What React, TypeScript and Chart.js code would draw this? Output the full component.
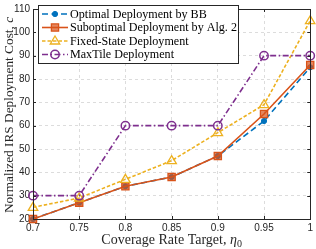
import React, { useEffect, useRef } from "react";
import { Chart, registerables } from "chart.js";
Chart.register(...registerables);

const xValues = [0.7, 0.75, 0.8, 0.85, 0.9, 0.95, 1];
const optimalBB = [20, 27, 34, 38, 47, 62, 85];
const suboptimal = [20, 27, 34, 38, 47, 65, 86];
const fixedState = [25, 29, 37, 45, 57, 69, 105];
const maxTile = [30, 30, 60, 60, 60, 90, 90];
const seriesNames = [
  "Optimal Deployment by BB",
  "Suboptimal Deployment by Alg. 2",
  "Fixed-State Deployment",
  "MaxTile Deployment",
];
const xTickLabels = ["0.7", "0.75", "0.8", "0.85", "0.9", "0.95", "1"];
const yMin = 20;
const yMax = 110;

const BLUE = "#0072BD";
const ORANGE = "#D95319";
const YELLOW = "#EDB120";
const PURPLE = "#7E2F8E";
const SERIF = "'Liberation Serif', 'DejaVu Serif', serif";
const SANS = "'Liberation Sans', Arial, sans-serif";

const styles = [
  { color: BLUE, dash: [6, 3.5], point: "circle", r: 2.6, fill: BLUE, bw: 1 },
  { color: ORANGE, dash: [], point: "rect", r: 3.6, fill: "rgba(217,83,25,0.7)", bw: 1.3 },
  { color: YELLOW, dash: [3.5, 2], point: "triangle", r: 5, fill: "rgba(255,255,255,0)", bw: 1.3 },
  { color: PURPLE, dash: [6, 2.5, 1.5, 2.5], point: "circle", r: 4.2, fill: "rgba(255,255,255,0)", bw: 1.5 },
];

function drawMarker(ctx: CanvasRenderingContext2D, i: number, x: number, y: number) {
  const s = styles[i];
  ctx.save();
  ctx.setLineDash([]);
  ctx.strokeStyle = s.color;
  ctx.fillStyle = s.fill;
  ctx.lineWidth = s.bw;
  ctx.beginPath();
  if (s.point === "circle") {
    ctx.arc(x, y, s.r, 0, Math.PI * 2);
  } else if (s.point === "rect") {
    ctx.rect(x - s.r, y - s.r, s.r * 2, s.r * 2);
  } else {
    const r = s.r;
    ctx.moveTo(x, y - r);
    ctx.lineTo(x + r * 0.95, y + r * 0.6);
    ctx.lineTo(x - r * 0.95, y + r * 0.6);
    ctx.closePath();
  }
  ctx.fill();
  ctx.stroke();
  ctx.restore();
}

const overlay = {
  id: "overlay",
  afterDraw(chart: any) {
    const ctx: CanvasRenderingContext2D = chart.ctx;
    const a = chart.chartArea;
    ctx.save();
    ctx.strokeStyle = "#262626";
    ctx.lineWidth = 1;
    ctx.setLineDash([]);
    ctx.strokeRect(Math.round(a.left) + 0.5, Math.round(a.top) + 0.5, Math.round(a.right - a.left), Math.round(a.bottom - a.top));
    const xs = chart.scales.x;
    const ys = chart.scales.y;
    ctx.beginPath();
    for (const v of xValues) {
      const px = Math.round(xs.getPixelForValue(v)) + 0.5;
      ctx.moveTo(px, a.bottom); ctx.lineTo(px, a.bottom - 3);
      ctx.moveTo(px, a.top); ctx.lineTo(px, a.top + 3);
    }
    for (let v = yMin; v <= yMax; v += 10) {
      const py = Math.round(ys.getPixelForValue(v)) + 0.5;
      ctx.moveTo(a.left, py); ctx.lineTo(a.left + 3, py);
      ctx.moveTo(a.right, py); ctx.lineTo(a.right - 3, py);
    }
    ctx.stroke();

    // y title
    ctx.fillStyle = "#262626";
    const yfs = 13.3;
    ctx.save();
    ctx.translate(10, (a.top + a.bottom) / 2 + 1);
    ctx.rotate(-Math.PI / 2);
    const yt1 = "Normalized IRS Deployment Cost, ";
    ctx.font = `${yfs}px ${SERIF}`;
    const w1 = ctx.measureText(yt1).width;
    ctx.font = `italic ${yfs}px ${SERIF}`;
    const w2 = ctx.measureText("c").width;
    const tw = w1 + w2;
    ctx.textBaseline = "middle";
    ctx.textAlign = "left";
    ctx.font = `${yfs}px ${SERIF}`;
    ctx.fillText(yt1, -tw / 2, 0);
    ctx.font = `italic ${yfs}px ${SERIF}`;
    ctx.fillText("c", -tw / 2 + w1, 0);
    ctx.restore();

    // x title
    const xfs = 14;
    const xt = "Coverage Rate Target, ";
    ctx.font = `${xfs}px ${SERIF}`;
    const xw1 = ctx.measureText(xt).width;
    ctx.font = `italic ${xfs}px ${SERIF}`;
    const xw2 = ctx.measureText("\u03B7").width;
    ctx.font = `10px ${SERIF}`;
    const xw3 = ctx.measureText("0").width;
    const xtw = xw1 + xw2 + xw3;
    const cx = (a.left + a.right) / 2;
    const by = 244;
    ctx.textBaseline = "alphabetic";
    ctx.textAlign = "left";
    ctx.font = `${xfs}px ${SERIF}`;
    ctx.fillText(xt, cx - xtw / 2, by);
    ctx.font = `italic ${xfs}px ${SERIF}`;
    ctx.fillText("\u03B7", cx - xtw / 2 + xw1, by);
    ctx.font = `10px ${SERIF}`;
    ctx.fillText("0", cx - xtw / 2 + xw1 + xw2, by + 3);

    // legend
    const lx = 38.5, ly = 5.5, lw = 200, lh = 58;
    ctx.fillStyle = "#ffffff";
    ctx.fillRect(lx, ly, lw, lh);
    ctx.strokeStyle = "#262626";
    ctx.lineWidth = 1;
    ctx.strokeRect(lx, ly, lw, lh);
    const rows = [14, 27.5, 41, 54.5];
    for (let i = 0; i < 4; i++) {
      const s = styles[i];
      ctx.save();
      ctx.strokeStyle = s.color;
      ctx.lineWidth = 1.6;
      ctx.setLineDash(s.dash);
      ctx.beginPath();
      ctx.moveTo(42, rows[i]);
      ctx.lineTo(68, rows[i]);
      ctx.stroke();
      ctx.restore();
      drawMarker(ctx, i, 55, rows[i]);
      ctx.fillStyle = "#000000";
      ctx.font = `12.1px ${SERIF}`;
      ctx.textBaseline = "middle";
      ctx.fillText(seriesNames[i], 70, rows[i] + 0.5);
    }
    ctx.restore();
  },
};

const markerPlugin = {
  id: "markers",
  afterDatasetDraw(chart: any, args: any) {
    const ctx: CanvasRenderingContext2D = chart.ctx;
    const i = args.index;
    const meta = args.meta;
    for (const el of meta.data) drawMarker(ctx, i, el.x, el.y);
  },
};

export default function App() {
  const ref = useRef<HTMLCanvasElement>(null);
  useEffect(() => {
    const series = [optimalBB, suboptimal, fixedState, maxTile];
    const chart = new Chart(ref.current!, {
      type: "line",
      data: {
        datasets: series.map((d, i) => ({
          label: seriesNames[i],
          data: xValues.map((x, j) => ({ x, y: d[j] })),
          borderColor: styles[i].color,
          borderDash: styles[i].dash,
          borderWidth: 1.6,
          pointRadius: 0,
          fill: false,
          tension: 0,
          order: 3 - i,
        })),
      },
      options: {
        responsive: false,
        animation: false,
        devicePixelRatio: 1,
        layout: { padding: { top: 3, right: 5, left: 0, bottom: 0 } },
        plugins: { legend: { display: false }, tooltip: { enabled: false } },
        scales: {
          x: {
            type: "linear",
            min: 0.7,
            max: 1,
            afterBuildTicks: (s: any) => {
              s.ticks = xValues.map((v) => ({ value: v }));
            },
            afterFit: (s: any) => {
              s.height = 30;
            },
            ticks: {
              callback: (_v: any, idx: number) => xTickLabels[idx],
              font: { family: SANS, size: 10 },
              color: "#262626",
              padding: 3,
              maxRotation: 0,
            },
            grid: { color: "#dcdcdc", tickLength: 0, drawTicks: false },
            border: { display: false, dash: [3, 3] },
          },
          y: {
            type: "linear",
            min: yMin,
            max: yMax,
            afterFit: (s: any) => {
              s.width = 33;
            },
            ticks: {
              stepSize: 10,
              font: { family: SANS, size: 10 },
              color: "#262626",
              padding: 3,
            },
            grid: { color: "#dcdcdc", drawTicks: false },
            border: { display: false, dash: [3, 3] },
          },
        },
      },
      plugins: [markerPlugin, overlay],
    } as any);
    return () => chart.destroy();
  }, []);
  return (
    <div style={{ position: "fixed", left: 0, top: 0, width: 316, height: 249, background: "#fff" }}>
      <canvas ref={ref} width={316} height={249} style={{ width: 316, height: 249 }} />
    </div>
  );
}
